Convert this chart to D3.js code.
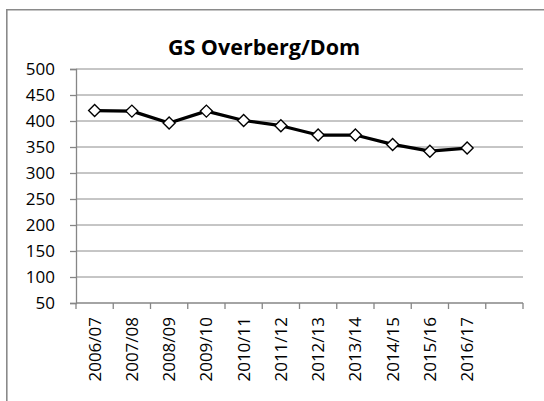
<!DOCTYPE html>
<html>
<head>
<meta charset="utf-8">
<script src="https://cdn.jsdelivr.net/npm/d3@7"></script>
<style>
	html, body { margin: 0; padding: 0; background: #fff; }
	svg { display: block; }
	text { font-family: "Open Sans", "Noto Sans", sans-serif; fill: #000; }
</style>
</head>
<body>
<svg id="chart" width="544" height="401"></svg>
<script>
// Data
const title = 'GS Overberg/Dom';
const categories = ['2006/07','2007/08','2008/09','2009/10','2010/11','2011/12','2012/13','2013/14','2014/15','2015/16','2016/17'];
const values = [420, 419, 396, 419, 401, 391, 373, 373, 355, 342, 348];
const yTicks = [50, 100, 150, 200, 250, 300, 350, 400, 450, 500];

const svg = d3.select('#chart');
const margin = {top: 69, right: 21, bottom: 98, left: 76};
const width = 544, height = 401;
const innerWidth = width - margin.left - margin.right;
const innerHeight = height - margin.top - margin.bottom;

// outer chart border (right/bottom run off the picture)
svg.append('path')
	.attr('d', `M6.8,${height}V9.8H${width}`)
	.attr('fill', 'none')
	.attr('stroke', '#8a8a8a')
	.attr('stroke-width', 1.6);

const g = svg.append('g')
	.attr('transform', `translate(${margin.left},${margin.top})`);

// one spare empty slot at the end, like the original
const x = d3.scaleBand()
	.domain(categories.concat(['']))
	.range([0, innerWidth])
	.padding(0);
const y = d3.scaleLinear()
	.domain([50, 500])
	.range([innerHeight, 0]);

// horizontal gridlines
g.selectAll('line.grid').data(yTicks.filter(d => d > 50))
	.enter().append('line')
		.attr('class', 'grid')
		.attr('x1', 0).attr('x2', innerWidth)
		.attr('y1', d => y(d)).attr('y2', d => y(d))
		.attr('stroke', '#8c8c8c')
		.attr('stroke-width', 1);

// y axis
const yAxis = g.append('g')
	.call(d3.axisLeft(y).tickValues(yTicks).tickSize(6).tickPadding(15));
yAxis.select('.domain').attr('stroke', '#868686').attr('stroke-width', 1.3);
yAxis.selectAll('.tick line').attr('stroke', '#868686').attr('stroke-width', 1.3);
yAxis.selectAll('text').attr('font-size', 17).attr('fill', '#000')
	.attr('font-family', '"Open Sans", sans-serif');

// x axis line + tick marks between categories
const xg = g.append('g').attr('transform', `translate(0,${innerHeight})`);
xg.append('line')
	.attr('x1', 0).attr('x2', innerWidth)
	.attr('stroke', '#868686').attr('stroke-width', 1.3);
const boundaries = x.domain().map(d => x(d)).concat([innerWidth]);
xg.selectAll('line.tick').data(boundaries)
	.enter().append('line')
		.attr('class', 'tick')
		.attr('x1', d => d).attr('x2', d => d)
		.attr('y1', 0).attr('y2', 6)
		.attr('stroke', '#868686').attr('stroke-width', 1.3);
xg.selectAll('text').data(categories)
	.enter().append('text')
		.attr('transform', d => `translate(${x(d) + x.bandwidth()/2},14) rotate(-90)`)
		.attr('text-anchor', 'end')
		.attr('dy', '0.35em')
		.attr('font-size', 17)
		.text(d => d);

// series line
const line = d3.line()
	.x((d, i) => x(categories[i]) + x.bandwidth()/2)
	.y(d => y(d));
g.append('path')
	.datum(values)
	.attr('d', line)
	.attr('fill', 'none')
	.attr('stroke', '#000')
	.attr('stroke-width', 3.2)
	.attr('stroke-linejoin', 'round');

// diamond markers
const r = 6;
const diamond = `M0,${-r}L${r},0L0,${r}L${-r},0Z`;
g.selectAll('path.marker').data(values)
	.enter().append('path')
		.attr('class', 'marker')
		.attr('d', diamond)
		.attr('transform', (d, i) => `translate(${x(categories[i]) + x.bandwidth()/2},${y(d)})`)
		.attr('fill', '#fff')
		.attr('stroke', '#000')
		.attr('stroke-width', 1.4);

// title
svg.append('text')
	.attr('x', 264).attr('y', 55)
	.attr('text-anchor', 'middle')
	.attr('font-size', 21.5)
	.attr('font-weight', 'bold')
	.text(title);
</script>
</body>
</html>
